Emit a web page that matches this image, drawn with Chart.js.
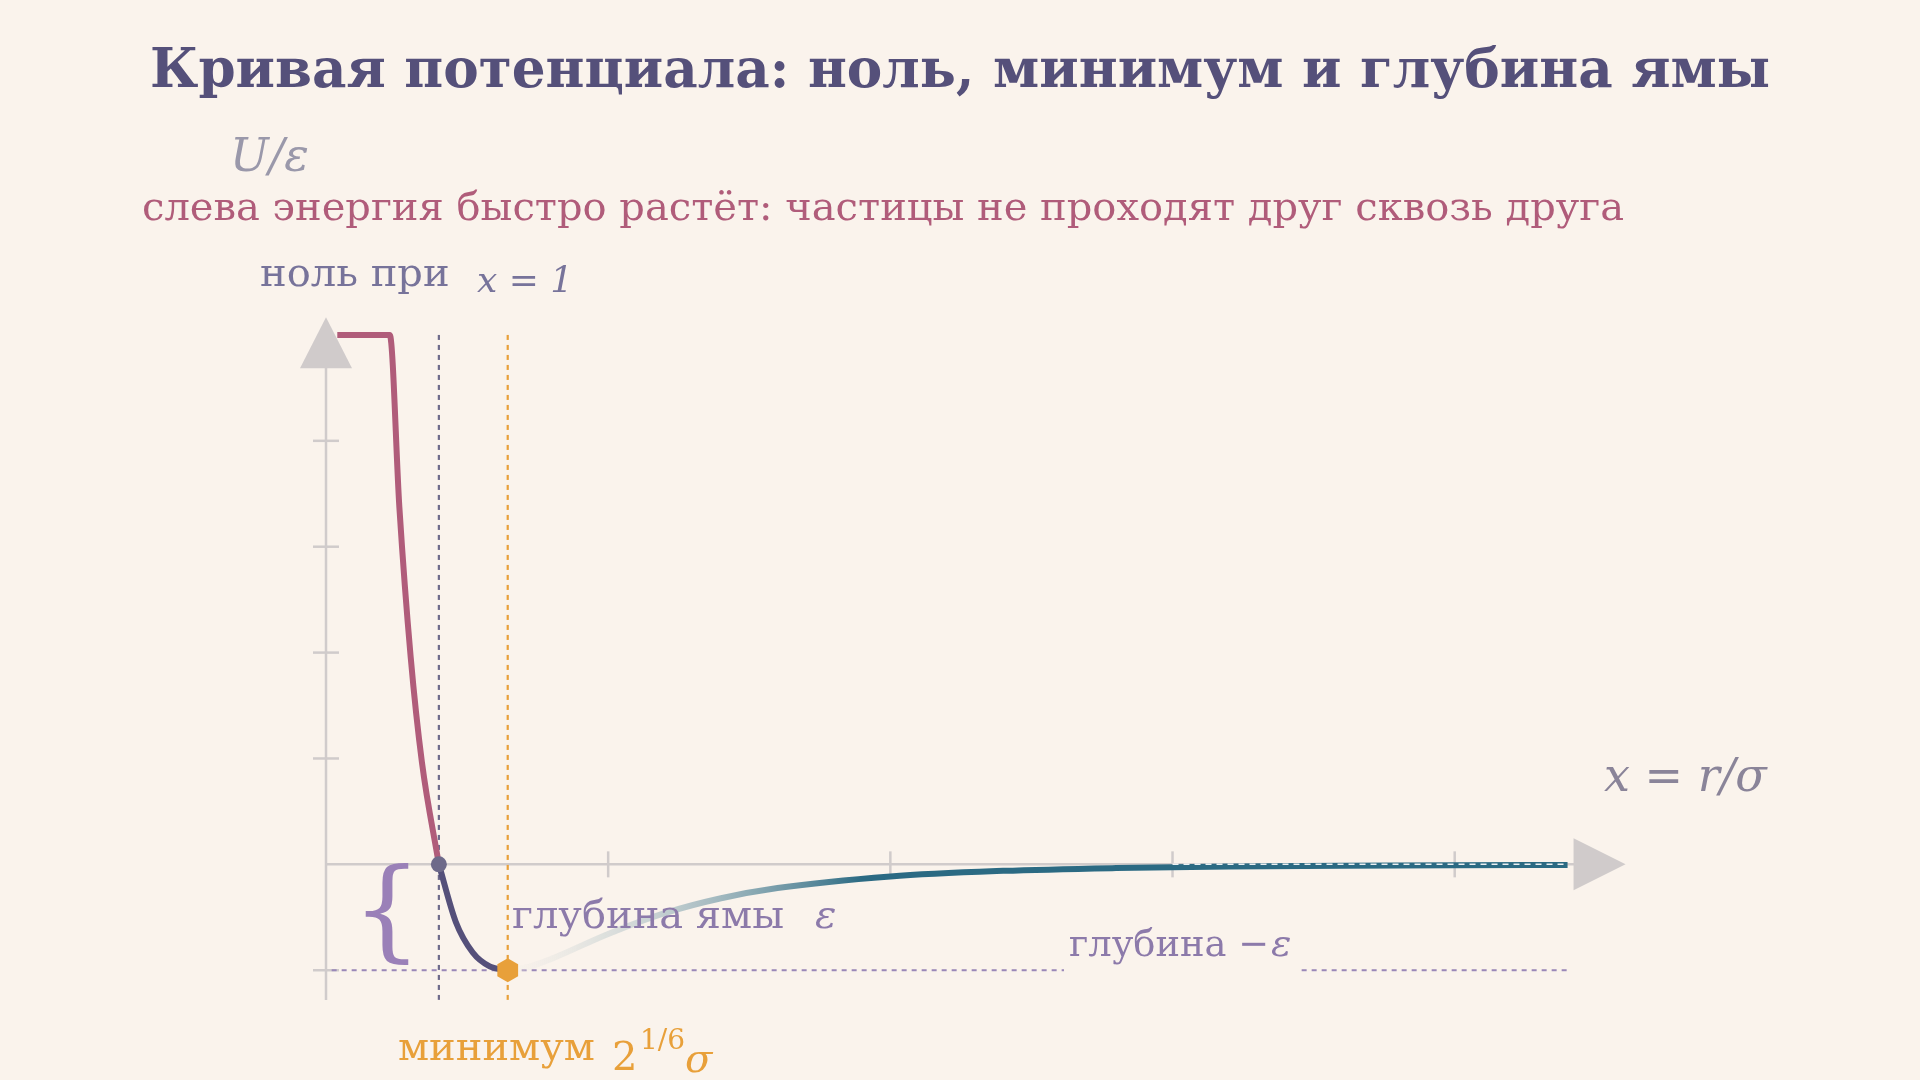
<!DOCTYPE html>
<html><head><meta charset="utf-8">
<script src="https://cdn.jsdelivr.net/npm/chart.js@4/dist/chart.umd.min.js"></script>
<style>html,body{margin:0;padding:0;background:#faf3ec;overflow:hidden;}canvas{display:block;}</style>
</head><body><canvas id="c" width="1920" height="1080" style="width:1920px;height:1080px"></canvas>
<script>
const repulsiveX = [0.82,0.84,0.86,0.88,0.90,0.913,0.93,0.95,0.97,1.0];
const repulsiveU = [5,5,5,5,5,5.0,3.373,1.961,0.963,0];
const wellX = [1.0,1.03,1.06,1.09,1.122];
const wellU = [0,-0.544,-0.832,-0.963,-1.0];
const tailX = [1.122,1.16,1.2,1.3,1.4,1.5,1.6,1.8,2.0,2.2,2.4,2.6,2.8,3.0];
const tailU = [-1.0,-0.968,-0.891,-0.657,-0.461,-0.320,-0.224,-0.114,-0.0615,-0.035,-0.0208,-0.0129,-0.0083,-0.0055];
const xTicks = [1.3,1.8,2.3,2.8];
const yTicks = [-1,1,2,3,4];
const zeroX = 1.0, minX = 1.122, depth = -1;

const pts=(xs,ys)=>xs.map((x,i)=>({x,y:ys[i]}));
const SERIF='"DejaVu Serif", serif';

const deco={id:'deco',
 beforeDatasetsDraw(ch){
  const c=ch.ctx,X=ch.scales.x,Y=ch.scales.y;
  const px=v=>X.getPixelForValue(v),py=v=>Y.getPixelForValue(v);
  c.save();
  c.strokeStyle='#d0cbcb';c.lineWidth=2.5;
  c.beginPath();c.moveTo(px(0.8),py(-1.28));c.lineTo(px(0.8),py(5.0));c.stroke();
  c.beginPath();c.moveTo(px(0.8),py(0));c.lineTo(px(3.02),py(0));c.stroke();
  c.fillStyle='#d0cbcb';
  c.beginPath();c.moveTo(px(0.8),py(5.12)-5);c.lineTo(px(0.8)-26,py(5.12)+46);c.lineTo(px(0.8)+26,py(5.12)+46);c.closePath();c.fill();
  const ax=px(3.0);
  c.beginPath();c.moveTo(ax+58,py(0));c.lineTo(ax+6,py(0)-26);c.lineTo(ax+6,py(0)+26);c.closePath();c.fill();
  for(const t of yTicks){c.beginPath();c.moveTo(px(0.8)-13,py(t));c.lineTo(px(0.8)+13,py(t));c.stroke();}
  for(const t of xTicks){c.beginPath();c.moveTo(px(t),py(0)-13);c.lineTo(px(t),py(0)+13);c.stroke();}
  c.setLineDash([5,5]);c.lineWidth=2.2;
  c.strokeStyle='#6e6a8a';c.beginPath();c.moveTo(px(zeroX),py(5.0));c.lineTo(px(zeroX),py(-1.28));c.stroke();
  c.strokeStyle='#e8a03a';c.beginPath();c.moveTo(px(minX),py(5.0));c.lineTo(px(minX),py(-1.28));c.stroke();
  c.strokeStyle='#9a88b8';c.lineWidth=2;c.beginPath();c.moveTo(px(0.81),py(depth));c.lineTo(px(3.0),py(depth));c.stroke();
  c.setLineDash([]);
  c.font='38px '+SERIF;c.textBaseline='middle';
  const lbl='глубина −',w=Math.min(c.measureText(lbl).width,200);
  c.font='italic 38px '+SERIF;const w2=c.measureText('ε').width;
  c.fillStyle='#faf3ec';c.fillRect(1064,925,w+w2+14,50);
  c.fillStyle='#8c7aaa';c.font='38px '+SERIF;c.textAlign='left';c.fillText(lbl,1069,946,200);
  c.font='italic 38px '+SERIF;c.fillText('ε',1069+w+2,946);
  c.restore();
 },
 afterDatasetsDraw(ch){
  const c=ch.ctx,X=ch.scales.x,Y=ch.scales.y;
  const px=v=>X.getPixelForValue(v),py=v=>Y.getPixelForValue(v);
  c.save();
  c.setLineDash([6,5]);c.strokeStyle='rgba(255,255,255,0.9)';c.lineWidth=1.5;
  c.beginPath();c.moveTo(px(2.3),py(0));c.lineTo(px(3.0),py(0));c.stroke();c.setLineDash([]);
  c.fillStyle='#6e6a8a';c.beginPath();c.arc(px(zeroX),py(0),8,0,Math.PI*2);c.fill();
  c.fillStyle='#e8a03a';c.beginPath();
  for(let k=0;k<6;k++){const a=Math.PI/6+k*Math.PI/3;const xx=px(minX)+12*Math.cos(a),yy=py(depth)+12*Math.sin(a);k?c.lineTo(xx,yy):c.moveTo(xx,yy);}
  c.closePath();c.fill();
  c.textBaseline='middle';c.textAlign='center';
  c.fillStyle='#55507a';c.font='bold 54px '+SERIF;c.fillText('Кривая потенциала: ноль, минимум и глубина ямы',960,73,1620);
  c.textAlign='left';
  c.fillStyle='#9a98aa';c.font='italic 46px '+SERIF;c.fillText('U/ε',230,159);
  c.fillStyle='#b05c7a';c.font='40px '+SERIF;c.fillText('слева энергия быстро растёт: частицы не проходят друг сквозь друга',142,210,1526);
  c.fillStyle='#77739a';c.font='40px '+SERIF;c.fillText('ноль при',260,276,205);
  c.font='italic 36px '+SERIF;c.fillText('x = 1',477,283);
  c.fillStyle='#8a8499';c.font='italic 46px '+SERIF;c.fillText('x = r/σ',1604,779);
  c.fillStyle='#9a80b8';c.font='110px '+SERIF;c.fillText('{',352,918);
  c.fillStyle='#8c7aaa';c.font='40px '+SERIF;c.fillText('глубина ямы',512,918,290);
  c.font='italic 40px '+SERIF;c.fillText('ε',815,918);
  c.fillStyle='#e8a03a';c.font='40px '+SERIF;c.fillText('минимум',398,1050,200);
  c.fillText('2',612,1060);c.font='28px '+SERIF;c.fillText('1/6',640,1042);
  c.font='italic 40px '+SERIF;c.fillText('σ',685,1062);
  c.restore();
 }};

new Chart(document.getElementById('c'),{
 type:'line',
 data:{datasets:[
  {data:pts(repulsiveX,repulsiveU),borderColor:'#b05c7a',borderWidth:6,pointRadius:0,cubicInterpolationMode:'monotone'},
  {data:pts(wellX,wellU),borderColor:'#55507a',borderWidth:6,pointRadius:0,cubicInterpolationMode:'monotone'},
  {data:pts(tailX,tailU),borderWidth:6,pointRadius:0,cubicInterpolationMode:'monotone',
   borderColor(ctx){const ch=ctx.chart,a=ch.chartArea;if(!a)return '#2b6a83';
     const X=ch.scales.x;const g=ch.ctx.createLinearGradient(X.getPixelForValue(1.12),0,X.getPixelForValue(1.75),0);
     g.addColorStop(0,'rgba(250,243,236,0.3)');g.addColorStop(1,'#2b6a83');return g;}}
 ]},
 options:{responsive:false,animation:false,devicePixelRatio:1,
  layout:{padding:{left:326,right:296,top:282,bottom:78}},
  plugins:{legend:{display:false},tooltip:{enabled:false}},
  scales:{x:{type:'linear',min:0.8,max:3.1,display:false},y:{min:-1.3,max:5.5,display:false}}},
 plugins:[deco]
});
</script>
</body></html>
